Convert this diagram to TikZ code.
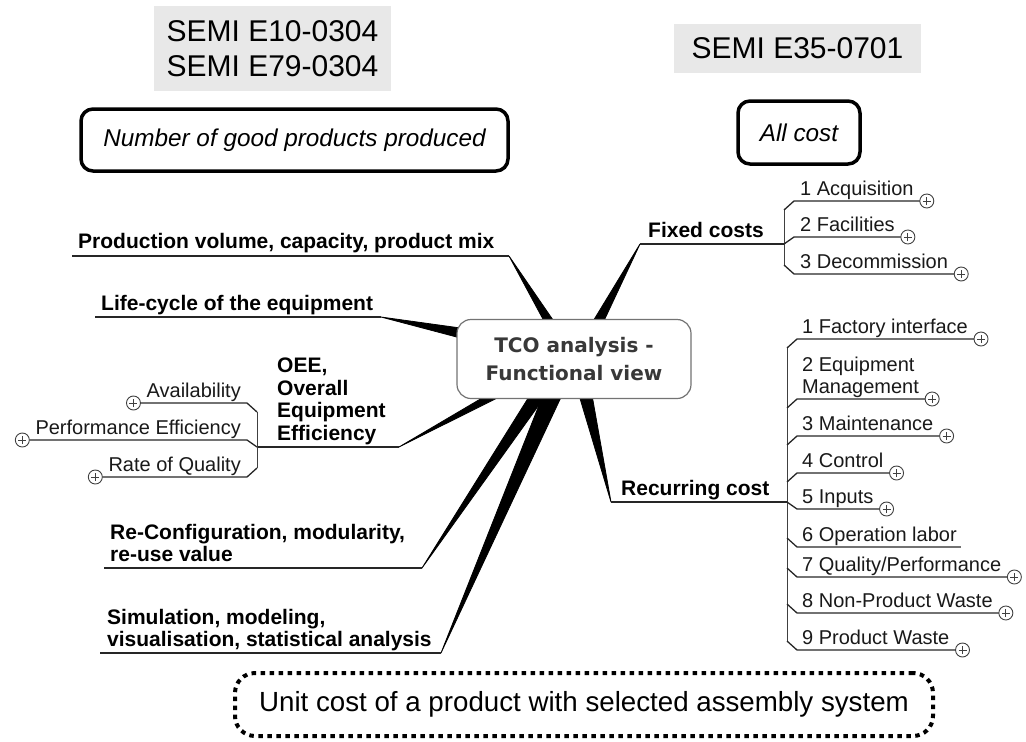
\documentclass[tikz,border=0pt]{standalone}
\usepackage{fontspec}
\setmainfont{Liberation Sans}
\newfontfamily\tcofont{DejaVu Sans}
\usepackage{tikz}
\usetikzlibrary{calc,backgrounds}

\tikzset{
    tco/.style={draw=black!55, line width=1.2pt, rounded corners=14pt, fill=white,
        minimum width=234pt, minimum height=79pt, align=center, text=black!78,
        font=\tcofont\fontsize{20}{28}\selectfont\bfseries},
    topic/.style={font=\fontsize{21}{22.5}\selectfont\bfseries, inner sep=0pt,
        anchor=base west, align=left},
    leaf/.style={font=\fontsize{20}{21.5}\selectfont, inner sep=0pt, text=black!90,
        anchor=base west, align=left},
    leafl/.style={leaf, anchor=base east, align=right},
    uline/.style={draw=black!85, line width=1.3pt},
    brace/.style={draw=black!75, line width=1pt},
    wedge/.style={fill=black, draw=black, line width=0.8pt, line join=round},
    plusnode/.style={circle, draw=black!75, line width=0.9pt, minimum size=14pt,
        inner sep=0pt, fill=white,
        path picture={\draw[black!75, line width=0.9pt]
            ([xshift=-4pt]path picture bounding box.center) --
            ([xshift=4pt]path picture bounding box.center)
            ([yshift=-4pt]path picture bounding box.center) --
            ([yshift=4pt]path picture bounding box.center);}},
    semi/.style={fill=black!9, inner sep=0pt, align=center,
        font=\fontsize{30}{35}\selectfont},
    goal/.style={draw, line width=3.5pt, rounded corners=12pt, inner sep=0pt,
        font=\fontsize{24.3}{28}\selectfont\itshape},
    unitbox/.style={draw, line width=4pt, dash pattern=on 4.5pt off 4.5pt,
        rounded corners=20pt, inner sep=0pt, font=\fontsize{27.7}{30}\selectfont},
}

\begin{document}
\begin{tikzpicture}[x=1pt,y=-1pt]
    \useasboundingbox (0,0) rectangle (1026,742);

    % standards and goal boxes
    \node[semi, minimum width=237pt, minimum height=85pt] (semiA) at (272.5,48.5)
        {SEMI E10-0304\\SEMI E79-0304};
    \node[semi, minimum width=247pt, minimum height=49pt] (semiB) at (797.5,48.5)
        {SEMI E35-0701};
    \node[goal, minimum width=427pt, minimum height=62pt] (good) at (294.5,140)
        {Number of good products produced};
    \node[goal, minimum width=122pt, minimum height=63pt] (allcost) at (799,132.5)
        {All cost};
    \node[unitbox, minimum width=698pt, minimum height=63pt] (unit) at (584,704.5)
        {Unit cost of a product with selected assembly system};

    % central topic
    \node[tco] (tco) at (574,359) {TCO analysis -\\Functional view};

    % main topics (base = last line)
    \node[topic] (prod) at (78,248) {Production volume, capacity, product mix};
    \coordinate (prodL) at (72,256);
    \coordinate (prodR) at (509,256);
    \node[topic] (life) at (101,310) {Life-cycle of the equipment};
    \coordinate (lifeL) at (95,317);
    \coordinate (lifeR) at (381,317);
    \node[topic] (oee) at (277,440) {OEE,\\Overall\\Equipment\\Efficiency};
    \coordinate (oeeJ) at (257,447);
    \coordinate (oeeR) at (399,447);
    \node[topic] (reconf) at (110,561.5) {Re-Configuration, modularity,\\re-use value};
    \coordinate (reconfL) at (104,568);
    \coordinate (reconfR) at (422,568);
    \node[topic] (sim) at (107,646.5) {Simulation, modeling,\\visualisation, statistical analysis};
    \coordinate (simL) at (100,653);
    \coordinate (simR) at (441,653);
    \node[topic] (fixed) at (648,237) {Fixed costs};
    \coordinate (fixedL) at (640,244);
    \coordinate (fixedJ) at (784,244);
    \node[topic] (recur) at (621,495) {Recurring cost};
    \coordinate (recurL) at (611,502);
    \coordinate (recurJ) at (787,502);

    \draw[uline] (prodL) -- (prodR);
    \draw[uline] (lifeL) -- (lifeR);
    \draw[uline] (oeeJ) -- (oeeR);
    \draw[uline] (reconfL) -- (reconfR);
    \draw[uline] (simL) -- (simR);
    \draw[uline] (fixedL) -- (fixedJ);
    \draw[uline] (recurL) -- (recurJ);

    % wedges to the centre
    \begin{pgfonlayer}{background}
        \filldraw[wedge] ($(tco.north)+(-29,4)$) -- ($(tco.north)+(-19,4)$) -- (prodR) -- cycle;
        \filldraw[wedge] ($(tco.north)+(18,4)$) -- ($(tco.north)+(29,4)$) -- (fixedL) -- cycle;
        \filldraw[wedge] ($(tco.west)+(4,-31)$) -- ($(tco.west)+(4,-21)$) -- (lifeR) -- cycle;
        \filldraw[wedge] ($(tco.south)+(-87,-4)$) -- ($(tco.south)+(-71,-4)$) -- (oeeR) -- cycle;
        \filldraw[wedge] ($(tco.south)+(-44,-4)$) -- ($(tco.south)+(-28,-4)$) -- (reconfR) -- cycle;
        \filldraw[wedge] ($(tco.south)+(-31,-4)$) -- ($(tco.south)+(-12,-4)$) -- (simR) -- cycle;
        \filldraw[wedge] ($(tco.south)+(5,-4)$) -- ($(tco.south)+(18,-4)$) -- (recurL) -- cycle;
    \end{pgfonlayer}

    % OEE sub-topics
    \draw[brace] (257,412) -- (257,468);
    \foreach \n/\u/\c/\t in {1/403/412/Availability, 2/440/447/Performance Efficiency,
                            3/477/468/Rate of Quality}{
        \node[leafl] (oc\n) at (241,\u-6) {\t};
        \draw[uline] (257,\c) -- (247,\u) -- ($(oc\n.west |- 0,\u)+(-6,0)$) coordinate (oce\n);
        \node[plusnode] (ocp\n) at ($(oce\n)+(-7,0)$) {};
    }

    % fixed costs
    \draw[brace] (784,210) -- (784,265);
    \foreach \n/\u/\c/\t in {1/201/210/1 Acquisition, 2/237/244/2 Facilities,
                            3/274/265/3 Decommission}{
        \node[leaf] (fc\n) at (800,\u-6) {\t};
        \draw[uline] (784,\c) -- (794,\u) -- ($(fc\n.east |- 0,\u)+(6,0)$) coordinate (fce\n);
        \node[plusnode] (fcp\n) at ($(fce\n)+(7,0)$) {};
    }

    % recurring cost
    \draw[brace] (787,348) -- (787,641);
    \foreach \n/\u/\c/\b/\t in {1/339/348/333/1 Factory interface,
                               2/399/408/393/{2 Equipment\\Management},
                               3/436/445/430/3 Maintenance, 4/473/482/467/4 Control,
                               5/509/502/503/5 Inputs, 7/577/568/571/{7 Quality/Performance},
                               8/613/604/607/8 Non-Product Waste, 9/650/641/644/9 Product Waste}{
        \node[leaf] (rc\n) at (802,\b) {\t};
        \draw[uline] (787,\c) -- (797,\u) -- ($(rc\n.east |- 0,\u)+(6,0)$) coordinate (rce\n);
        \node[plusnode] (rcp\n) at ($(rce\n)+(7,0)$) {};
    }
    \node[leaf] (rc6) at (802,541) {6 Operation labor};
    \draw[uline] (787,538) -- (797,547) -- ($(rc6.east |- 0,547)+(4,0)$);

\end{tikzpicture}
\end{document}
